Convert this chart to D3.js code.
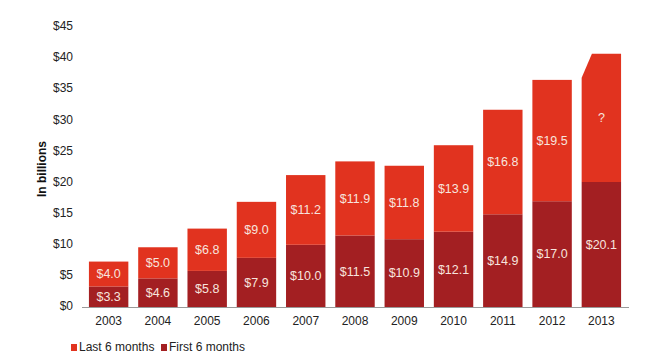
<!DOCTYPE html>
<html>
<head>
<meta charset="utf-8">
<script src="https://cdn.jsdelivr.net/npm/d3@7"></script>
<style>
  body { margin: 0; background: #fff; }
  svg { display: block; font-family: Arial, "Liberation Sans", sans-serif; }
</style>
</head>
<body>
<div id="chart"></div>
<script>
// data
const years = ["2003", "2004", "2005", "2006", "2007", "2008", "2009", "2010", "2011", "2012", "2013"];
const firstHalf = [3.3, 4.6, 5.8, 7.9, 10.0, 11.5, 10.9, 12.1, 14.9, 17.0, 20.1];
const lastHalf = [4.0, 5.0, 6.8, 9.0, 11.2, 11.9, 11.8, 13.9, 16.8, 19.5, 20.6];
const lastLabels = ["$4.0", "$5.0", "$6.8", "$9.0", "$11.2", "$11.9", "$11.8", "$13.9", "$16.8", "$19.5", "?"];
const yTicks = [0, 5, 10, 15, 20, 25, 30, 35, 40, 45];
const seriesNames = ["Last 6 months", "First 6 months"];

const width = 661, height = 362;
const colLast = "#e1331f";
const colFirst = "#a31f22";

const svg = d3.select("#chart").append("svg")
    .attr("width", width)
    .attr("height", height);

const x = d3.scaleBand()
    .domain(years)
    .range([84, 626])
    .paddingInner(0.2)
    .paddingOuter(0.1);

const y = d3.scaleLinear()
    .domain([0, 45])
    .range([307, 27]);

// y tick labels
svg.selectAll(".ytick")
    .data(yTicks)
    .enter().append("text")
    .attr("x", 73)
    .attr("y", d => y(d))
    .attr("text-anchor", "end")
    .attr("dominant-baseline", "middle")
    .style("font-size", "12px")
    .style("fill", "#222")
    .text(d => "$" + d);

// y title
svg.append("text")
    .attr("transform", `translate(46, ${(y(0) + y(45)) / 2 + 2}) rotate(-90)`)
    .attr("text-anchor", "middle")
    .style("font-size", "12px")
    .style("font-weight", "bold")
    .style("fill", "#111")
    .text("In billions");

const rows = years.map((yr, i) => ({ yr, a: firstHalf[i], b: lastHalf[i], lab: lastLabels[i] }));
const last = rows.length - 1;

// first 6 months (bottom)
svg.selectAll(".first")
    .data(rows)
    .enter().append("rect")
    .attr("x", d => x(d.yr))
    .attr("y", d => y(d.a))
    .attr("width", x.bandwidth())
    .attr("height", d => y(0) - y(d.a))
    .attr("fill", colFirst);

// last 6 months (top)
svg.selectAll(".last")
    .data(rows.slice(0, last))
    .enter().append("rect")
    .attr("x", d => x(d.yr))
    .attr("y", d => y(d.a + d.b))
    .attr("width", x.bandwidth())
    .attr("height", d => y(d.a) - y(d.a + d.b))
    .attr("fill", colLast);

// 2013 forecast segment with cut corner
const r = rows[last];
const bx = x(r.yr), bw = x.bandwidth();
const topY = y(r.a + r.b);
const cutDx = bw * 0.26, cutDy = 24;
svg.append("path")
    .attr("d", `M${bx},${y(r.a)} L${bx},${topY + cutDy} L${bx + cutDx},${topY} L${bx + bw},${topY} L${bx + bw},${y(r.a)} Z`)
    .attr("fill", colLast);

// value labels
const labStyle = sel => sel
    .attr("text-anchor", "middle")
    .attr("dominant-baseline", "middle")
    .style("font-size", "12.5px")
    .style("fill", "#f7e4de");

svg.selectAll(".labA")
    .data(rows)
    .enter().append("text")
    .attr("x", d => x(d.yr) + bw / 2)
    .attr("y", d => (y(0) + y(d.a)) / 2 + 1)
    .call(labStyle)
    .text(d => "$" + d.a.toFixed(1));

svg.selectAll(".labB")
    .data(rows)
    .enter().append("text")
    .attr("x", d => x(d.yr) + bw / 2)
    .attr("y", (d, i) => i === last ? y(d.a + d.b) + 65 : (y(d.a) + y(d.a + d.b)) / 2 + 1)
    .call(labStyle)
    .text(d => d.lab);

// axis line
svg.append("line")
    .attr("x1", 82).attr("x2", 629)
    .attr("y1", y(0) + 0.5).attr("y2", y(0) + 0.5)
    .attr("stroke", "#999")
    .attr("stroke-width", 1);

// x labels
svg.selectAll(".xlab")
    .data(years)
    .enter().append("text")
    .attr("x", d => x(d) + bw / 2)
    .attr("y", 322)
    .attr("text-anchor", "middle")
    .attr("dominant-baseline", "middle")
    .style("font-size", "12px")
    .style("fill", "#222")
    .text(d => d);

// legend
const legend = [
    { name: seriesNames[0], color: colLast, x: 71 },
    { name: seriesNames[1], color: colFirst, x: 161 }
];
legend.forEach(l => {
    svg.append("rect")
        .attr("x", l.x).attr("y", 344)
        .attr("width", 6).attr("height", 7)
        .attr("fill", l.color);
    svg.append("text")
        .attr("x", l.x + 8).attr("y", 348)
        .attr("dominant-baseline", "middle")
        .style("font-size", "12px")
        .style("fill", "#222")
        .text(l.name);
});
</script>
</body>
</html>
